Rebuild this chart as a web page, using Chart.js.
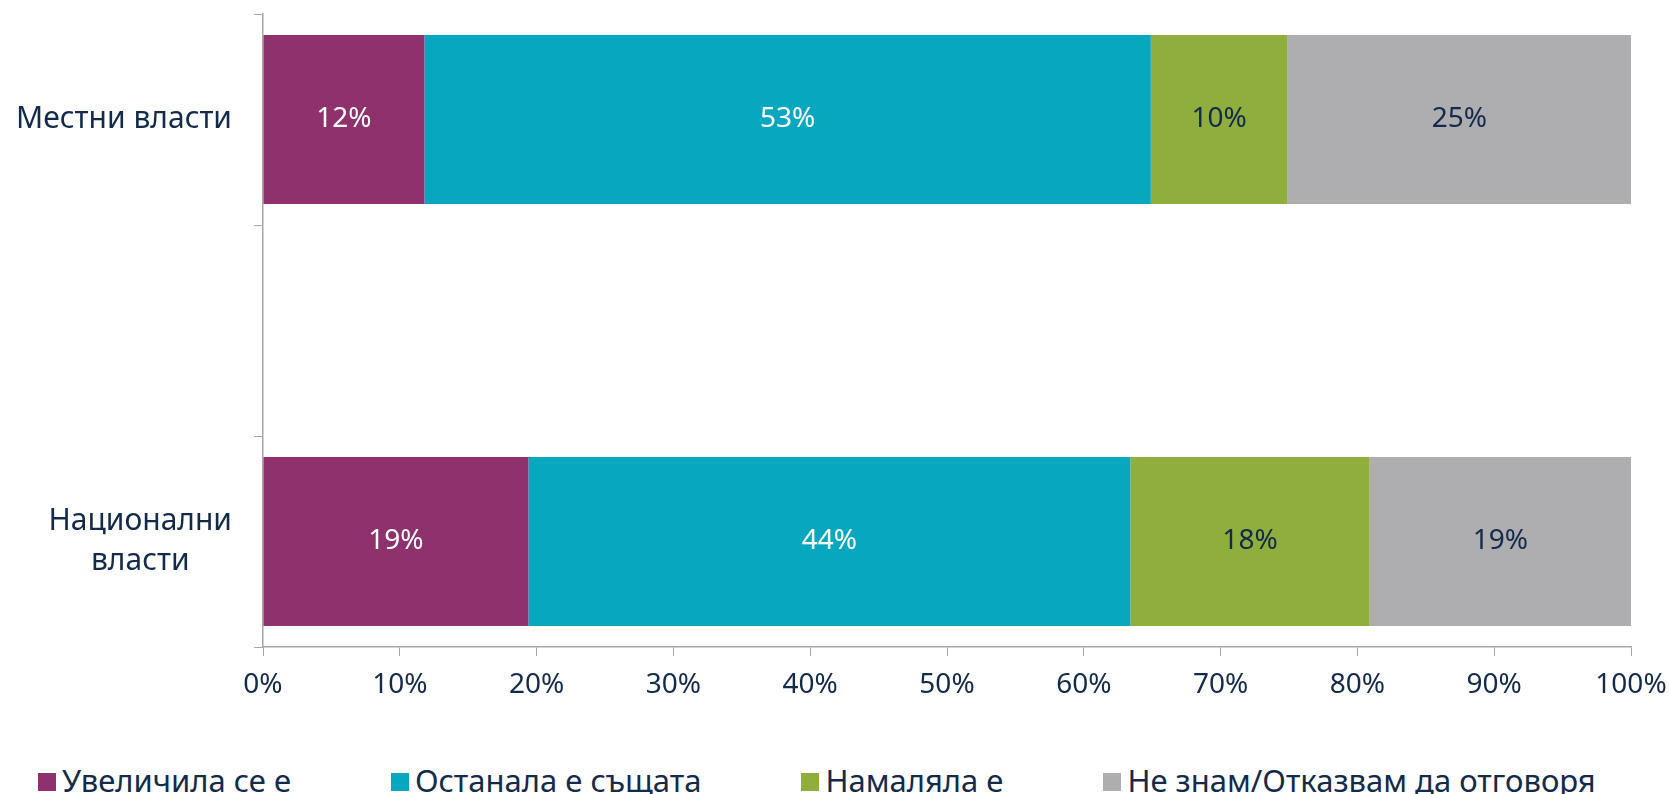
<!DOCTYPE html>
<html lang="bg">
<head>
<meta charset="utf-8">
<title>Местни и национални власти</title>
<script src="https://cdn.jsdelivr.net/npm/chart.js@4.4.1/dist/chart.umd.min.js"></script>
<style>
  html, body { margin: 0; padding: 0; background: #fff; overflow: hidden; }
  #wrap { position: relative; width: 1669px; height: 794px; }
  #chart { position: absolute; left: 0; top: 0; }
  #legend {
    position: absolute; left: 38px; top: 762px;
    display: flex; gap: 100px;
    font-family: "Noto Sans", "DejaVu Sans", sans-serif;
    font-size: 31px; line-height: 36px; color: #132a4a;
  }
  #legend .item { display: flex; align-items: center; white-space: nowrap; }
  #legend .box { width: 18px; height: 18px; margin-right: 6px; margin-top: 4px; }
</style>
</head>
<body>
<div id="wrap">
  <canvas id="chart" width="1669" height="707"></canvas>
  <div id="legend"></div>
</div>
<script>
// categories (the middle one is an empty spacer row)
const categories = ['Местни власти', '', ['Национални', 'власти']];
const seriesNames = ['Увеличила се е', 'Останала е същата', 'Намаляла е', 'Не знам/Отказвам да отговоря'];
const increased = [11.8, null, 19.4];
const same = [53.1, null, 44.0];
const decreased = [10.0, null, 17.5];
const dontKnow = [25.1, null, 19.1];
const xTicks = [0, 10, 20, 30, 40, 50, 60, 70, 80, 90, 100];

const seriesColors = ['#8e316c', '#08a7c0', '#90ae3e', '#aeadaf'];
const labelColors = ['#ffffff', '#ffffff', '#132a4a', '#132a4a'];
const textColor = '#132a4a';
const axisColor = '#a6a6a6';
const fontFamily = '"Noto Sans", "DejaVu Sans", sans-serif';

const seriesValues = [increased, same, decreased, dontKnow];

// value labels in the middle of each segment
const segmentLabels = {
  id: 'segmentLabels',
  afterDatasetsDraw(chart) {
    const ctx = chart.ctx;
    ctx.save();
    ctx.font = '28px ' + fontFamily;
    ctx.textAlign = 'center';
    ctx.textBaseline = 'middle';
    chart.data.datasets.forEach((ds, i) => {
      const meta = chart.getDatasetMeta(i);
      meta.data.forEach((el, j) => {
        const v = ds.data[j];
        if (v == null) return;
        const c = el.getCenterPoint();
        ctx.fillStyle = labelColors[i];
        ctx.fillText(Math.round(v) + '%', c.x, c.y);
      });
    });
    ctx.restore();
  }
};

// category labels: block right-aligned, lines centred inside the block
const categoryLabels = {
  id: 'categoryLabels',
  afterDraw(chart) {
    const ctx = chart.ctx;
    const y = chart.scales.y;
    const right = y.right - 9 - 22;
    const lineH = 40;
    ctx.save();
    ctx.font = '30px ' + fontFamily;
    ctx.fillStyle = textColor;
    ctx.textAlign = 'center';
    ctx.textBaseline = 'middle';
    categories.forEach((lab, i) => {
      const lines = Array.isArray(lab) ? lab : [lab];
      if (!lines.join('')) return;
      const w = Math.max(...lines.map(l => ctx.measureText(l).width));
      const cx = right - w / 2;
      const cy = y.getPixelForTick(i);
      lines.forEach((l, k) => {
        ctx.fillText(l, cx, cy + (k - (lines.length - 1) / 2) * lineH);
      });
    });
    ctx.restore();
  }
};

const chart = new Chart(document.getElementById('chart'), {
  type: 'bar',
  data: {
    labels: categories,
    datasets: seriesValues.map((vals, i) => ({
      label: seriesNames[i],
      data: vals,
      backgroundColor: seriesColors[i],
      borderWidth: 0,
      categoryPercentage: 1,
      barPercentage: 0.8,
    })),
  },
  options: {
    indexAxis: 'y',
    responsive: false,
    animation: false,
    layout: { padding: { top: 14, right: 38, left: 0, bottom: 0 } },
    scales: {
      x: {
        stacked: true,
        min: 0,
        max: 100,
        afterBuildTicks(scale) { scale.ticks = xTicks.map(v => ({ value: v })); },
        afterFit(scale) {
          scale.height = 60;
          scale.paddingLeft = 0;
          scale.paddingRight = 0;
        },
        grid: { drawOnChartArea: false, drawTicks: true, tickLength: 9, color: axisColor },
        border: { display: true, color: axisColor, width: 1.5 },
        ticks: {
          padding: 12,
          color: textColor,
          font: { family: fontFamily, size: 28 },
          callback: v => v + '%',
          maxRotation: 0,
          autoSkip: false,
        },
      },
      y: {
        stacked: true,
        afterFit(scale) { scale.width = 263; },
        grid: { drawOnChartArea: false, drawTicks: true, tickLength: 9, color: axisColor, offset: true },
        border: { display: true, color: axisColor, width: 1.5 },
        ticks: { display: false },
      },
    },
    plugins: {
      legend: { display: false },
      tooltip: { enabled: false },
    },
  },
  plugins: [segmentLabels, categoryLabels],
});

// html legend built from the datasets
const legendEl = document.getElementById('legend');
chart.data.datasets.forEach(ds => {
  const item = document.createElement('div');
  item.className = 'item';
  const box = document.createElement('span');
  box.className = 'box';
  box.style.background = ds.backgroundColor;
  const txt = document.createElement('span');
  txt.textContent = ds.label;
  item.appendChild(box);
  item.appendChild(txt);
  legendEl.appendChild(item);
});
</script>
</body>
</html>
